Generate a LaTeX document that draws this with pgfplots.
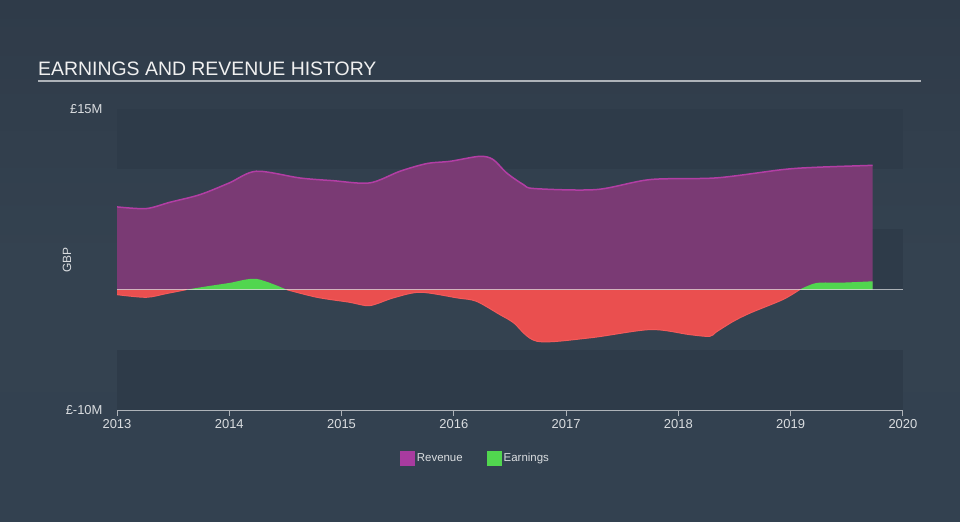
\documentclass[border=0pt]{standalone}
\usepackage{pgfplots}
\pgfplotsset{compat=1.18}
\usepackage{fontspec}
\setmainfont{Liberation Sans}
\definecolor{bgtop}{HTML}{2F3B49}
\definecolor{bgmid}{HTML}{344250}
\definecolor{bgbot}{HTML}{334150}
\definecolor{bandcol}{HTML}{2E3B49}
\definecolor{revfill}{HTML}{7A3A74}
\definecolor{revline}{HTML}{B23EA4}
\definecolor{revleg}{HTML}{A83B9F}
\definecolor{ergreen}{HTML}{51D64F}
\definecolor{erred}{HTML}{EA4F4F}
\definecolor{erredline}{HTML}{F45A5A}
\definecolor{titlecol}{HTML}{F0F0F0}
\definecolor{tickcol}{HTML}{DADDE0}
\definecolor{axiscol}{HTML}{AEB3B9}
\begin{document}
\begin{tikzpicture}
\shade[top color=bgtop, bottom color=bgbot, middle color=bgmid] (0bp,0bp) rectangle (960bp,522bp);
\node[anchor=base west, inner sep=0pt, text=titlecol, font=\fontsize{19.5}{23}\selectfont] at (38bp,446bp) {EARNINGS AND REVENUE HISTORY};
\draw[line width=2bp, axiscol] (38bp,440.5bp) -- (921bp,440.5bp);
\begin{axis}[
  at={(117bp,112bp)}, anchor=south west,
  scale only axis, width=786bp, height=301bp,
  xmin=2013, xmax=2020, ymin=-10, ymax=15,
  axis lines*=left,
  y axis line style={draw=none},
  x axis line style={axiscol, line width=1bp, -},
  xtick={2013,2014,...,2020},
  ytick={-10,15},
  yticklabels={£-10M,£15M},
  tick align=outside,
  major tick length=6bp,
  ytick style={draw=none},
  xtick style={axiscol, line width=1bp},
  /pgf/number format/assume math mode=true,
  /pgf/number format/1000 sep={},
  tick label style={font=\fontsize{13}{15}\selectfont, text=tickcol},
  yticklabel style={xshift=-5bp},
  ylabel={GBP},
  every axis y label/.style={at={(axis description cs:-0.0636,0.498)}, rotate=90, anchor=center, font=\fontsize{12}{14}\selectfont, text=tickcol},
  legend columns=2,
  legend style={at={(axis description cs:0.456,-0.16)}, anchor=center, draw=none, fill=none, text=tickcol, font=\fontsize{11.5}{13}\selectfont, /tikz/every even column/.append style={column sep=22bp}},
  legend image code/.code={\fill[#1] (0bp,-7.5bp) rectangle (15bp,7.5bp);},
]
\fill[bandcol] (axis cs:2013,10) rectangle (axis cs:2020,15);
\fill[bandcol] (axis cs:2013,0) rectangle (axis cs:2020,5);
\fill[bandcol] (axis cs:2013,-10) rectangle (axis cs:2020,-5);

% Revenue
\addplot[smooth, fill=revfill, draw=none, forget plot] coordinates {
(2013.00,6.87) (2013.26,6.73) (2013.47,7.25) (2013.74,7.89) (2014.00,8.86) (2014.24,9.83) (2014.63,9.27) (2014.92,9.05) (2015.25,8.86) (2015.52,9.83) (2015.76,10.47) (2015.97,10.66) (2016.23,11.07) (2016.35,10.8) (2016.47,9.69) (2016.62,8.72) (2016.72,8.39) (2017.27,8.31) (2017.75,9.14) (2018.34,9.28) (2018.93,9.97) (2019.23,10.16) (2019.73,10.32)
} \closedcycle;
\addplot[smooth, draw=revline, line width=1.5bp, forget plot] coordinates {
(2013.00,6.87) (2013.26,6.73) (2013.47,7.25) (2013.74,7.89) (2014.00,8.86) (2014.24,9.83) (2014.63,9.27) (2014.92,9.05) (2015.25,8.86) (2015.52,9.83) (2015.76,10.47) (2015.97,10.66) (2016.23,11.07) (2016.35,10.8) (2016.47,9.69) (2016.62,8.72) (2016.72,8.39) (2017.27,8.31) (2017.75,9.14) (2018.34,9.28) (2018.93,9.97) (2019.23,10.16) (2019.73,10.32)
};

% Earnings negative parts
\addplot[smooth, fill=erred, draw=none, forget plot] coordinates {
(2013.00,-0.42) (2013.26,-0.64) (2013.44,-0.33) (2013.62,0)
} \closedcycle;
\addplot[smooth, fill=erred, draw=none, forget plot] coordinates {
(2014.51,0) (2014.78,-0.64) (2015.07,-1.05) (2015.25,-1.33) (2015.46,-0.69) (2015.70,-0.22) (2016.03,-0.69) (2016.20,-0.97) (2016.41,-2.08) (2016.53,-2.74) (2016.74,-4.29) (2017.21,-4.01) (2017.75,-3.32) (2018.10,-3.74) (2018.28,-3.88) (2018.34,-3.5) (2018.49,-2.63) (2018.64,-1.94) (2018.93,-0.83) (2019.08,0)
} \closedcycle;
\addplot[smooth, draw=erredline, line width=1bp, forget plot] coordinates {
(2013.00,-0.42) (2013.26,-0.64) (2013.44,-0.33) (2013.62,0)
};
\addplot[smooth, draw=erredline, line width=1bp, forget plot] coordinates {
(2014.51,0) (2014.78,-0.64) (2015.07,-1.05) (2015.25,-1.33) (2015.46,-0.69) (2015.70,-0.22) (2016.03,-0.69) (2016.20,-0.97) (2016.41,-2.08) (2016.53,-2.74) (2016.74,-4.29) (2017.21,-4.01) (2017.75,-3.32) (2018.10,-3.74) (2018.28,-3.88) (2018.34,-3.5) (2018.49,-2.63) (2018.64,-1.94) (2018.93,-0.83) (2019.08,0)
};
% Earnings positive parts
\addplot[smooth, fill=ergreen, draw=none, forget plot] coordinates {
(2013.62,0) (2013.80,0.27) (2014.00,0.55) (2014.24,0.89) (2014.51,0)
} \closedcycle;
\addplot[smooth, fill=ergreen, draw=none, forget plot] coordinates {
(2019.08,0) (2019.23,0.55) (2019.46,0.58) (2019.73,0.69)
} \closedcycle;

\draw[white, opacity=0.6, line width=1bp] (axis cs:2013,0) -- (axis cs:2020,0);

\addlegendimage{fill=revleg, draw=none}
\addlegendentry{Revenue}
\addlegendimage{fill=ergreen, draw=none}
\addlegendentry{Earnings}
\end{axis}
\end{tikzpicture}
\end{document}
